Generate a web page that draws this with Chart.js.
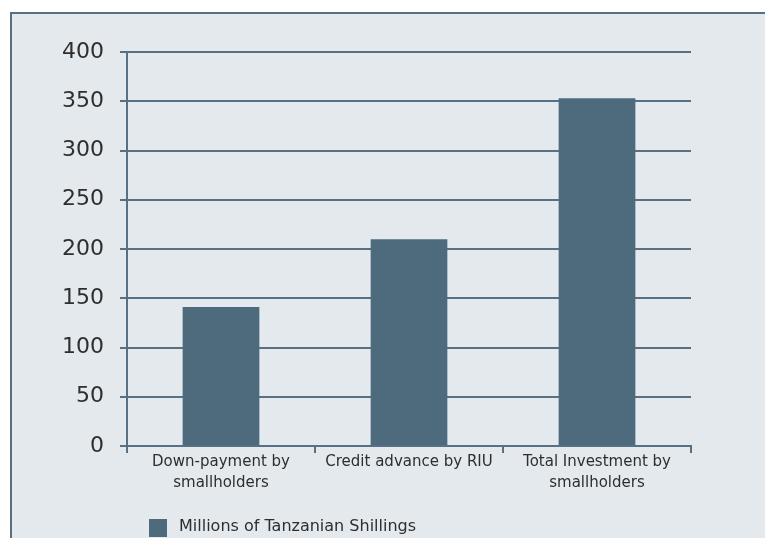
<!DOCTYPE html>
<html>
<head>
<meta charset="utf-8">
<script src="https://cdn.jsdelivr.net/npm/chart.js@4"></script>
<style>
  html, body { margin: 0; padding: 0; background: #ffffff; overflow: hidden; }
  #wrap { width: 765px; height: 538px; position: relative; }
</style>
</head>
<body>
<div id="wrap"><canvas id="chart"></canvas></div>
<script>
// --- datos del gráfico ---
const categories = [
    ['Down-payment by', 'smallholders'],
    'Credit advance by RIU',
    ['Total Investment by', 'smallholders']
];
const seriesLabel = 'Millions of Tanzanian Shillings';
const seriesValues = [141, 210, 353];
const yTicks = [0, 50, 100, 150, 200, 250, 300, 350, 400];

const BAR_COLOR = '#4e6a7d';
const LINE_COLOR = '#587083';
const PANEL_BG = '#e4e9ee';
const TEXT_COLOR = '#2e2e2e';
const FONT = '"DejaVu Sans", sans-serif';

// fondo del panel + leyenda propia
const panelPlugin = {
    id: 'panel',
    beforeDraw(chart) {
        const ctx = chart.ctx;
        ctx.save();
        ctx.fillStyle = PANEL_BG;
        ctx.fillRect(11, 13, chart.width - 11, chart.height - 13);
        ctx.strokeStyle = LINE_COLOR;
        ctx.lineWidth = 2;
        ctx.beginPath();
        ctx.moveTo(11, chart.height);
        ctx.lineTo(11, 13);
        ctx.lineTo(chart.width, 13);
        ctx.stroke();
        ctx.restore();
    },
    afterDraw(chart) {
        const ctx = chart.ctx;
        const ds = chart.data.datasets[0];
        ctx.save();
        ctx.fillStyle = ds.backgroundColor;
        ctx.fillRect(149, 519, 18, 18);
        ctx.fillStyle = TEXT_COLOR;
        ctx.font = '16px ' + FONT;
        ctx.textBaseline = 'alphabetic';
        ctx.textAlign = 'left';
        ctx.fillText(ds.label, 179, 531);
        ctx.restore();
    }
};

const ctx = document.getElementById('chart').getContext('2d');
new Chart(ctx, {
    type: 'bar',
    data: {
        labels: categories,
        datasets: [{
            label: seriesLabel,
            data: seriesValues,
            backgroundColor: BAR_COLOR,
            borderWidth: 0,
            barPercentage: 0.408,
            categoryPercentage: 1
        }]
    },
    options: {
        responsive: true,
        maintainAspectRatio: false,
        animation: false,
        layout: { padding: { left: 0, top: 52, right: 74, bottom: 38 } },
        plugins: {
            legend: { display: false },
            tooltip: { enabled: false }
        },
        scales: {
            x: {
                offset: true,
                grid: {
                    offset: true,
                    drawOnChartArea: false,
                    drawTicks: true,
                    tickLength: 7,
                    color: LINE_COLOR,
                    lineWidth: 2
                },
                border: { display: true, color: LINE_COLOR, width: 2 },
                ticks: {
                    color: TEXT_COLOR,
                    font: { family: FONT, size: 15, lineHeight: 1.43 },
                    padding: -2,
                    maxRotation: 0,
                    autoSkip: false
                },
                afterFit(scale) { scale.height = 54; }
            },
            y: {
                min: 0,
                max: 400,
                afterBuildTicks(scale) { scale.ticks = yTicks.map(v => ({ value: v })); },
                grid: {
                    color: LINE_COLOR,
                    lineWidth: 2,
                    tickLength: 7
                },
                border: { display: true, color: LINE_COLOR, width: 2 },
                ticks: {
                    color: TEXT_COLOR,
                    font: { family: FONT, size: 22 },
                    padding: 16
                },
                afterFit(scale) { scale.width = 127; }
            }
        }
    },
    plugins: [panelPlugin]
});
</script>
</body>
</html>
